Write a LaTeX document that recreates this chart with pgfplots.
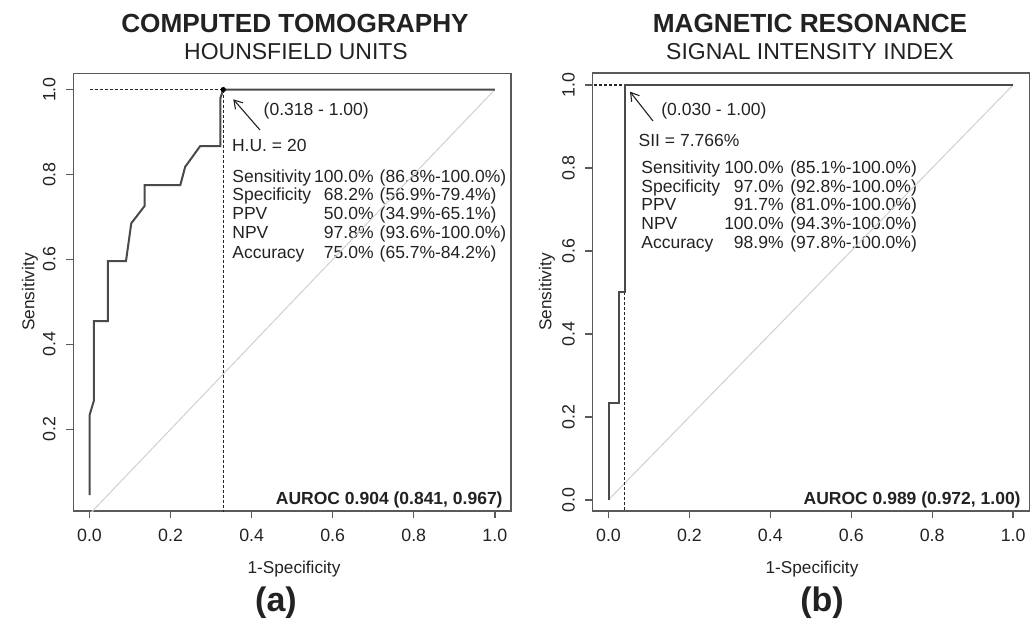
\documentclass[border=0pt]{standalone}
\usepackage{fontspec}
\setmainfont{Liberation Sans}
\usepackage{pgfplots}
\pgfplotsset{compat=1.18}
\usetikzlibrary{arrows.meta}

\definecolor{curve}{HTML}{4A4A4A}
\definecolor{frame}{HTML}{5A5A5A}
\definecolor{txt}{HTML}{222222}
\definecolor{diag}{HTML}{D0D0D0}

\newcommand{\tabfont}{\fontsize{8.75bp}{10bp}\selectfont}
% one row of the statistics block: label, value (right aligned), interval
\newcommand{\row}[7]{%
  \node[anchor=base west] at (#1,#4) {#5};
  \node[anchor=base east] at (#2,#4) {#6};
  \node[anchor=base west] at (#3,#4) {#7};}

\pgfplotsset{
  rocaxis/.style={
    scale only axis, anchor=south west,
    xmin=-0.04, xmax=1.04,
    xtick={0,0.2,0.4,0.6,0.8,1.0},
    ytick={0,0.2,0.4,0.6,0.8,1.0},
    xtick pos=lower, ytick pos=left,
    tick align=outside, major tick length=3.5bp,
    every tick/.style={frame, line width=0.7bp},
    axis line style={frame, line width=0.8bp},
    /pgf/number format/assume math mode=true,
    /pgf/number format/fixed, /pgf/number format/fixed zerofill,
    /pgf/number format/precision=1,
    tick label style={font=\fontsize{8.9bp}{10bp}\selectfont, text=txt},
    yticklabel style={rotate=90, anchor=south},
    yticklabel shift=1.8bp, xticklabel shift=2bp,
  },
  dashline/.style={black!85, line width=0.65bp, dash pattern=on 1.5bp off 1bp},
}

\begin{document}
\begin{tikzpicture}
% pixel frame of the reference: 1 px = 0.5 bp, y downwards
\begin{scope}[x=0.5bp, y=-0.5bp, yshift=315bp,
  every node/.style={inner sep=0pt, text=txt, font=\tabfont}]
\useasboundingbox (0,0) rectangle (1034,630);

% titles
\node[anchor=base, font=\fontsize{13.1bp}{15bp}\selectfont\bfseries] at (295,33) {COMPUTED TOMOGRAPHY};
\node[anchor=base, font=\fontsize{11.5bp}{13bp}\selectfont] at (296,59.3) {HOUNSFIELD UNITS};
\node[anchor=base, font=\fontsize{13.1bp}{15bp}\selectfont\bfseries] at (810,33) {MAGNETIC RESONANCE};
\node[anchor=base, font=\fontsize{11.5bp}{13bp}\selectfont] at (810,59.3) {SIGNAL INTENSITY INDEX};

% axis labels and panel letters
\node[rotate=90, font=\fontsize{8.6bp}{10bp}\selectfont] at (30,292) {Sensitivity};
\node[rotate=90, font=\fontsize{8.6bp}{10bp}\selectfont] at (547,292) {Sensitivity};
\node[anchor=base, font=\fontsize{8.6bp}{10bp}\selectfont] at (294,574) {1-Specificity};
\node[anchor=base, font=\fontsize{8.6bp}{10bp}\selectfont] at (812,574) {1-Specificity};
\node[font=\fontsize{17bp}{19bp}\selectfont\bfseries] at (276,603) {(a)};
\node[font=\fontsize{17bp}{19bp}\selectfont\bfseries] at (822,603) {(b)};

% panel (a) annotations
\draw[-{Straight Barb[length=4bp,width=5bp]}, line width=0.55bp, txt] (260,130) -- (233.3,99.3);
\node[anchor=base west] at (263.3,116) {(0.318 - 1.00)};
\node[anchor=base west] at (231.7,152) {H.U. = 20};
\row{232}{374}{379.3}{183}{Sensitivity}{100.0\%}{(86.8\%-100.0\%)}
\row{232}{374}{379.3}{201}{Specificity}{68.2\%}{(56.9\%-79.4\%)}
\row{232}{374}{379.3}{220}{PPV}{50.0\%}{(34.9\%-65.1\%)}
\row{232}{374}{379.3}{239}{NPV}{97.8\%}{(93.6\%-100.0\%)}
\row{232}{374}{379.3}{259}{Accuracy}{75.0\%}{(65.7\%-84.2\%)}
\node[anchor=base east, font=\tabfont\bfseries] at (503,505) {AUROC 0.904 (0.841, 0.967)};

% panel (b) annotations
\draw[-{Straight Barb[length=4bp,width=5bp]}, line width=0.55bp, txt] (653,121) -- (630,91.7);
\node[anchor=base west] at (661,115.5) {(0.030 - 1.00)};
\node[anchor=base west] at (638.3,147) {SII = 7.766\%};
\row{641}{784}{790}{174}{Sensitivity}{100.0\%}{(85.1\%-100.0\%)}
\row{641}{784}{790}{192.5}{Specificity}{97.0\%}{(92.8\%-100.0\%)}
\row{641}{784}{790}{211}{PPV}{91.7\%}{(81.0\%-100.0\%)}
\row{641}{784}{790}{230}{NPV}{100.0\%}{(94.3\%-100.0\%)}
\row{641}{784}{790}{249}{Accuracy}{98.9\%}{(97.8\%-100.0\%)}
\node[anchor=base east, font=\tabfont\bfseries] at (1021,505) {AUROC 0.989 (0.972, 1.00)};
\end{scope}

% (a) computed tomography
\begin{axis}[rocaxis, at={(36.65bp,59.5bp)},
  width=218.85bp, height=218.7bp,
  ymin=0.0076, ymax=1.0377]
\addplot[diag, line width=0.5bp] coordinates {(0,0) (1,1)};
\addplot[dashline] coordinates {(0,1) (0.33,1)};
\addplot[dashline] coordinates {(0.33,1) (0.33,-0.1)};
\addplot[curve, line width=1bp] coordinates {
  (0,0.045) (0,0.233) (0.011,0.268) (0.011,0.455) (0.045,0.455)
  (0.045,0.596) (0.09,0.596) (0.103,0.685) (0.136,0.726) (0.136,0.775)
  (0.224,0.775) (0.236,0.818) (0.273,0.867) (0.323,0.867) (0.323,0.98)
  (0.33,1) (1,1)};
\addplot[only marks, mark=*, mark size=1.1bp, black] coordinates {(0.33,1)};
\end{axis}

% (b) magnetic resonance
\begin{axis}[rocaxis, at={(296.15bp,59.5bp)},
  width=218.5bp, height=218.85bp,
  ymin=-0.027, ymax=1.028]
\addplot[diag, line width=0.5bp] coordinates {(0,0) (1,1)};
\addplot[dashline] coordinates {(-0.035,1) (0.04,1)};
\addplot[dashline] coordinates {(0.04,0.5) (0.04,-0.1)};
\addplot[curve, line width=1bp] coordinates {
  (0,0) (0,0.233) (0.026,0.233) (0.026,0.5) (0.04,0.5) (0.04,1) (1,1)};
\end{axis}
\end{tikzpicture}
\end{document}
